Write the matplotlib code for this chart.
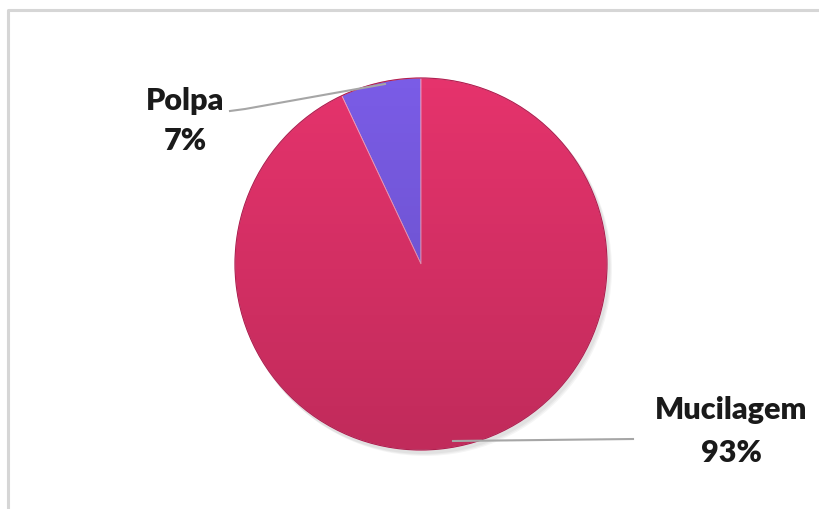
import matplotlib
matplotlib.use("Agg")
import matplotlib.pyplot as plt
import numpy as np
from matplotlib.patches import Circle, Rectangle

labels = ["Polpa", "Mucilagem"]
values = [7, 93]
colors = ["#7A5CE6", "#E5336C"]

W, H = 820, 509
fig = plt.figure(figsize=(W/100, H/100), dpi=100)
ax = fig.add_axes([0, 0, 1, 1])
ax.set_xlim(0, W)
ax.set_ylim(0, H)
ax.set_aspect("equal")
ax.axis("off")

def Y(y):
    return H - y

# frame
ax.plot([8, 8, W], [0, Y(10), Y(10)], color="#d6d6d6", lw=2.2, solid_capstyle="butt")

cx, cy, r = 421, Y(264), 186
# soft shadow
for i, a in enumerate([0.04, 0.04, 0.04]):
    ax.add_patch(Circle((cx + 2 + i, cy - 3 - i), r + 1, color="black", alpha=a, lw=0, zorder=1))

wedges, _ = ax.pie(values, colors=colors, startangle=90, counterclock=True,
                   center=(cx, cy), radius=r, frame=True,
                   wedgeprops=dict(edgecolor="#f0a0c0", linewidth=0.6, zorder=2))
ax.set_xlim(0, W)
ax.set_ylim(0, H)
ax.axis("off")

# vertical shading gradient
g = np.linspace(0, 1, 256)
rgba = np.zeros((256, 1, 4))
rgba[:, 0, 3] = 0.16 * (1 - g)
im = ax.imshow(rgba, extent=[cx - r, cx + r, cy - r, cy + r], origin="lower",
               aspect="auto", zorder=3, interpolation="bilinear")
clip = Circle((cx, cy), r, transform=ax.transData)
im.set_clip_path(clip)
ax.add_patch(Circle((cx, cy), r, fill=False, ec="#b02050", lw=0.8, zorder=4))

# leader lines
ax.plot([230, 245, 385], [Y(111), Y(109), Y(84)], color="#a6a6a6", lw=1.5, zorder=5)
ax.plot([453, 633], [Y(441), Y(439)], color="#a6a6a6", lw=1.5, zorder=5)

fs = 22
font = dict(fontsize=fs, fontweight="heavy", family=["Lato", "DejaVu Sans"], color="#1a1a1a",
            ha="center", va="center")
ax.text(185, Y(101), "Polpa", **font)
ax.text(185, Y(141), "7%", **font)
ax.text(731, Y(410), "Mucilagem", **font)
ax.text(731, Y(453), "93%", **font)

fig.savefig("out.png", dpi=100)
